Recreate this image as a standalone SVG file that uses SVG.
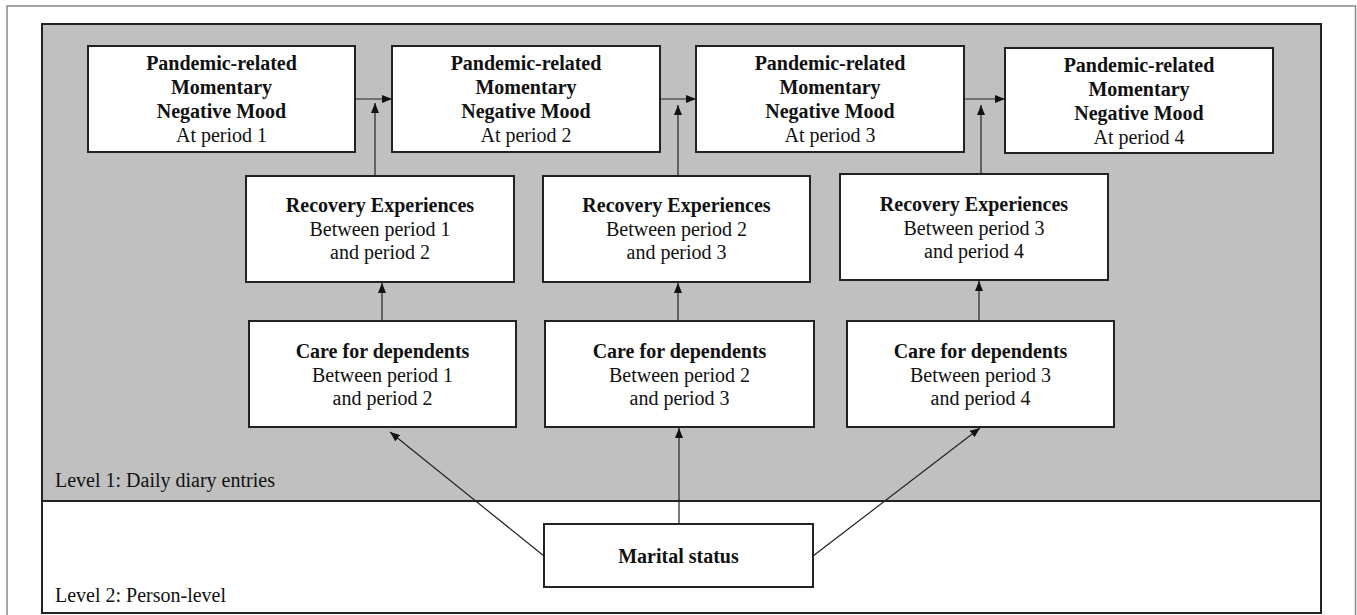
<svg xmlns="http://www.w3.org/2000/svg" width="1357" height="615" viewBox="0 0 1357 615">
<style>
text{font-family:"Liberation Serif","Times New Roman",serif;font-size:20px;fill:#111;text-anchor:middle}
.b{font-weight:bold}
.l{text-anchor:start}
.box{fill:#fff;stroke:#222;stroke-width:2}
.c{stroke:#222;stroke-width:1.2;fill:none;marker-end:url(#ah)}
</style>
<defs>
<marker id="ah" viewBox="0 0 10 8" refX="10" refY="4" markerWidth="10" markerHeight="8" markerUnits="userSpaceOnUse" orient="auto">
<path d="M0,0 L10,4 L0,8 Z" fill="#111"/>
</marker>
</defs>
<rect x="0" y="0" width="1357" height="615" fill="#fff"/>
<rect x="7" y="6" width="1348.5" height="615" fill="#fff" stroke="#888" stroke-width="1.5"/>
<g id="level1">
<rect x="42" y="24" width="1279" height="477" fill="#c0c0c0" stroke="#222" stroke-width="2"/>
<text class="l" x="55" y="487">Level 1: Daily diary entries</text>
</g>
<g id="level2">
<rect x="42" y="501" width="1279" height="112" fill="#fff" stroke="#222" stroke-width="2"/>
<text class="l" x="55" y="602">Level 2: Person-level</text>
</g>
<g id="connectors">
<line class="c" x1="355" y1="99" x2="392" y2="99"/>
<line class="c" x1="660" y1="99" x2="696" y2="99"/>
<line class="c" x1="964" y1="99" x2="1005" y2="99"/>
<line class="c" x1="375" y1="176" x2="375" y2="103"/>
<line class="c" x1="678" y1="176" x2="678" y2="105"/>
<line class="c" x1="981" y1="174" x2="981" y2="105"/>
<line class="c" x1="382" y1="321" x2="382" y2="283"/>
<line class="c" x1="678" y1="321" x2="678" y2="283"/>
<line class="c" x1="979" y1="321" x2="979" y2="281"/>
<line class="c" x1="679" y1="524" x2="679" y2="428"/>
<line class="c" x1="544" y1="556" x2="390" y2="432"/>
<line class="c" x1="813" y1="556" x2="980" y2="428"/>
</g>
<g id="mood1">
<rect class="box" x="88" y="46" width="267" height="106"/>
<text class="b" x="221.5" y="70">Pandemic-related</text>
<text class="b" x="221.5" y="94">Momentary</text>
<text class="b" x="221.5" y="118">Negative Mood</text>
<text x="221.5" y="142">At period 1</text>
</g>
<g id="mood2">
<rect class="box" x="392" y="46" width="268" height="106"/>
<text class="b" x="526" y="70">Pandemic-related</text>
<text class="b" x="526" y="94">Momentary</text>
<text class="b" x="526" y="118">Negative Mood</text>
<text x="526" y="142">At period 2</text>
</g>
<g id="mood3">
<rect class="box" x="696" y="46" width="268" height="106"/>
<text class="b" x="830" y="70">Pandemic-related</text>
<text class="b" x="830" y="94">Momentary</text>
<text class="b" x="830" y="118">Negative Mood</text>
<text x="830" y="142">At period 3</text>
</g>
<g id="mood4">
<rect class="box" x="1005" y="48" width="268" height="105"/>
<text class="b" x="1139" y="72">Pandemic-related</text>
<text class="b" x="1139" y="96">Momentary</text>
<text class="b" x="1139" y="120">Negative Mood</text>
<text x="1139" y="144">At period 4</text>
</g>
<g id="recovery1">
<rect class="box" x="246" y="176" width="268" height="106"/>
<text class="b" x="380" y="212">Recovery Experiences</text>
<text x="380" y="236">Between period 1</text>
<text x="380" y="259">and period 2</text>
</g>
<g id="recovery2">
<rect class="box" x="543" y="176" width="267" height="106"/>
<text class="b" x="676.5" y="212">Recovery Experiences</text>
<text x="676.5" y="236">Between period 2</text>
<text x="676.5" y="259">and period 3</text>
</g>
<g id="recovery3">
<rect class="box" x="840" y="174" width="268" height="106"/>
<text class="b" x="974" y="211">Recovery Experiences</text>
<text x="974" y="235">Between period 3</text>
<text x="974" y="258">and period 4</text>
</g>
<g id="care1">
<rect class="box" x="249" y="321" width="267" height="106"/>
<text class="b" x="382.5" y="358">Care for dependents</text>
<text x="382.5" y="382">Between period 1</text>
<text x="382.5" y="405">and period 2</text>
</g>
<g id="care2">
<rect class="box" x="545" y="321" width="269" height="106"/>
<text class="b" x="679.5" y="358">Care for dependents</text>
<text x="679.5" y="382">Between period 2</text>
<text x="679.5" y="405">and period 3</text>
</g>
<g id="care3">
<rect class="box" x="847" y="321" width="267" height="106"/>
<text class="b" x="980.5" y="358">Care for dependents</text>
<text x="980.5" y="382">Between period 3</text>
<text x="980.5" y="405">and period 4</text>
</g>
<g id="marital">
<rect class="box" x="544" y="524" width="269" height="63"/>
<text class="b" x="678.5" y="563">Marital status</text>
</g>
</svg>
